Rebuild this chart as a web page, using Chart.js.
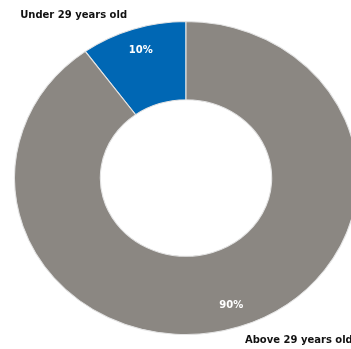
<!DOCTYPE html>
<html>
<head>
<meta charset="utf-8">
<script src="https://cdn.jsdelivr.net/npm/chart.js@4/dist/chart.umd.min.js"></script>
<style>
  html, body { margin: 0; padding: 0; background: #fff; }
  #chart { display: block; }
</style>
</head>
<body>
<canvas id="chart" width="351" height="349"></canvas>
<script>
// Age split of respondents
const categories = ['Under 29 years old', 'Above 29 years old'];
const shares = [10, 90];
const sliceColors = ['#0067b4', '#8b8782'];

// ring is drawn slightly wider than tall
const stretchX = 1.095;

function arcGeometry(arc) {
    const p = arc.getProps(['x', 'y', 'startAngle', 'endAngle', 'outerRadius', 'innerRadius'], true);
    return p;
}

const stretchPlugin = {
    id: 'stretch',
    beforeDatasetsDraw(chart) {
        const ctx = chart.ctx;
        const arc = chart.getDatasetMeta(0).data[0];
        ctx.save();
        ctx.translate(arc.x, 0);
        ctx.scale(stretchX, 1);
        ctx.translate(-arc.x, 0);
    },
    afterDatasetsDraw(chart) {
        chart.ctx.restore();
    }
};

const labelPlugin = {
    id: 'sliceLabels',
    afterDraw(chart) {
        const ctx = chart.ctx;
        const meta = chart.getDatasetMeta(0);
        ctx.save();
        ctx.textBaseline = 'middle';
        meta.data.forEach((arc, i) => {
            const p = arcGeometry(arc);
            const mid = (p.startAngle + p.endAngle) / 2;
            const cos = Math.cos(mid), sin = Math.sin(mid);

            // percentage inside the ring
            const r = p.outerRadius * 0.855;
            ctx.font = 'bold 10px "DejaVu Sans"';
            ctx.fillStyle = '#ffffff';
            ctx.textAlign = 'center';
            ctx.fillText(shares[i] + '%', p.x + r * cos * stretchX, p.y + r * sin);

            // category name outside the ring
            const ox = p.x + p.outerRadius * cos * stretchX;
            const oy = p.y + p.outerRadius * sin;
            const left = cos < 0;
            ctx.font = 'bold 10px "DejaVu Sans"';
            ctx.fillStyle = '#111111';
            ctx.textAlign = left ? 'right' : 'left';
            ctx.fillText(categories[i], ox + (left ? -6 : 6), oy + (sin < 0 ? -14 : 14));
        });
        ctx.restore();
    }
};

new Chart(document.getElementById('chart'), {
    type: 'doughnut',
    data: {
        labels: categories,
        datasets: [{
            data: shares,
            backgroundColor: sliceColors,
            borderColor: '#e4e4e4',
            borderWidth: 1
        }]
    },
    options: {
        responsive: false,
        animation: false,
        cutout: '50%',
        rotation: -36,
        layout: {
            padding: { top: 21, bottom: 14, left: 29, right: 8 }
        },
        plugins: {
            legend: { display: false },
            tooltip: { enabled: false }
        }
    },
    plugins: [stretchPlugin, labelPlugin]
});
</script>
</body>
</html>
